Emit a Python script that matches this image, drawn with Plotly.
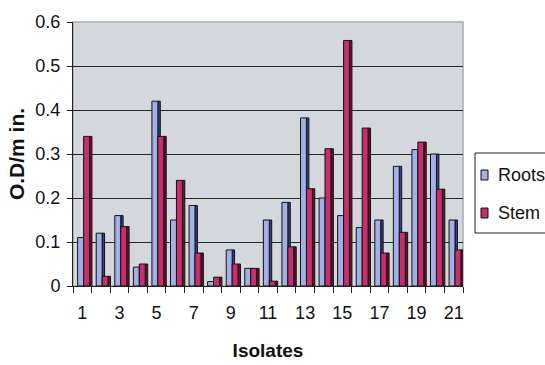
import plotly.graph_objects as go

isolates = list(range(1, 22))
roots = [0.11, 0.12, 0.16, 0.043, 0.42, 0.15, 0.183, 0.01, 0.082, 0.04, 0.15,
         0.19, 0.382, 0.20, 0.16, 0.133, 0.15, 0.272, 0.31, 0.30, 0.15]
stem = [0.34, 0.022, 0.135, 0.05, 0.34, 0.24, 0.075, 0.02, 0.05, 0.04, 0.011,
        0.089, 0.221, 0.312, 0.558, 0.359, 0.075, 0.122, 0.327, 0.22, 0.082]
series_names = ["Roots", "Stem"]
label_ticks = [1, 3, 5, 7, 9, 11, 13, 15, 17, 19, 21]
y_ticks = [0, 0.1, 0.2, 0.3, 0.4, 0.5, 0.6]

sans = "Liberation Sans, Arial, sans-serif"

W, H = 545, 365
M_L, M_R, M_T, M_B = 73, 82, 22, 79
PLOT_W = W - M_L - M_R
PLOT_H = H - M_T - M_B


def px_x(px):
    """pixel column -> paper x"""
    return (px - M_L) / PLOT_W


def px_y(py):
    """pixel row -> paper y"""
    return (H - M_B - py) / PLOT_H


# bar geometry in category units: front face + darker side face for a 3-D look
FACE_W = 0.32
SIDE_W = 0.13
ROOT_OFF = -0.25
STEM_OFF = ROOT_OFF + FACE_W

ROOT_FACE, ROOT_SIDE = "#A2B0E6", "#34458C"
STEM_FACE, STEM_SIDE = "#C5306C", "#6E1232"
EDGE = dict(color="#111111", width=1)

fig = go.Figure()
# root side faces (partly hidden by the stem bars drawn later)
fig.add_trace(go.Bar(x=isolates, y=roots, offset=ROOT_OFF + FACE_W, width=SIDE_W,
                     marker=dict(color=ROOT_SIDE, line=EDGE), hoverinfo="skip"))
fig.add_trace(go.Bar(x=isolates, y=roots, name=series_names[0], offset=ROOT_OFF,
                     width=FACE_W, marker=dict(color=ROOT_FACE, line=EDGE)))
fig.add_trace(go.Bar(x=isolates, y=stem, offset=STEM_OFF + FACE_W, width=SIDE_W,
                     marker=dict(color=STEM_SIDE, line=EDGE), hoverinfo="skip"))
fig.add_trace(go.Bar(x=isolates, y=stem, name=series_names[1], offset=STEM_OFF,
                     width=FACE_W, marker=dict(color=STEM_FACE, line=EDGE)))

# legend box drawn by hand so it can sit flush against the right edge
shapes = [
    dict(type="rect", xref="paper", yref="paper", x0=0, x1=1, y0=0, y1=1,
         line=dict(color="#A8ACB0", width=1.5), layer="below"),
    dict(type="rect", xref="paper", yref="paper",
         x0=px_x(475), x1=px_x(547), y0=px_y(233), y1=px_y(153),
         line=dict(color="#222", width=1), fillcolor="white"),
]
annotations = []
for name, face, cy in [(series_names[0], ROOT_FACE, 175), (series_names[1], STEM_FACE, 213)]:
    shapes.append(dict(type="rect", xref="paper", yref="paper",
                       x0=px_x(481), x1=px_x(488), y0=px_y(cy + 5), y1=px_y(cy - 5),
                       line=dict(color="#111", width=1), fillcolor=face))
    annotations.append(dict(text=name, xref="paper", yref="paper",
                            x=px_x(496), y=px_y(cy), xanchor="left", yanchor="middle",
                            showarrow=False, font=dict(size=18, family=sans, color="#111")))

fig.update_layout(
    width=W, height=H,
    margin=dict(l=M_L, r=M_R, t=M_T, b=M_B, autoexpand=False),
    paper_bgcolor="white",
    plot_bgcolor="#D4D8DC",
    barmode="overlay",
    font=dict(family=sans, color="#111", size=18),
    showlegend=False,
    shapes=shapes,
    annotations=annotations,
)

fig.update_xaxes(
    range=[0.5, 21.5],
    tickmode="array", tickvals=label_ticks, ticktext=[str(v) for v in label_ticks],
    ticks="", showgrid=False,
    showline=True, linecolor="#222", linewidth=1,
    tickfont=dict(size=18, family=sans),
    ticklabelstandoff=10,
    minor=dict(tickmode="linear", tick0=0.5, dtick=1, ticks="outside",
               ticklen=6, tickcolor="#222", showgrid=False),
    title=dict(text="<b>Isolates</b>", font=dict(size=19, family=sans), standoff=22),
)
fig.update_yaxes(
    range=[0, 0.6],
    tickmode="array", tickvals=y_ticks,
    ticktext=["0", "0.1", "0.2", "0.3", "0.4", "0.5", "0.6"],
    ticks="outside", ticklen=5, tickcolor="#222",
    showgrid=True, gridcolor="#262626", gridwidth=1.3,
    showline=True, linecolor="#222", linewidth=1,
    zeroline=False,
    tickfont=dict(size=18, family=sans),
    ticklabelstandoff=3,
    title=dict(text="<b>O.D/m in.</b>", font=dict(size=21, family=sans), standoff=5),
)

fig.write_html("out.html")
